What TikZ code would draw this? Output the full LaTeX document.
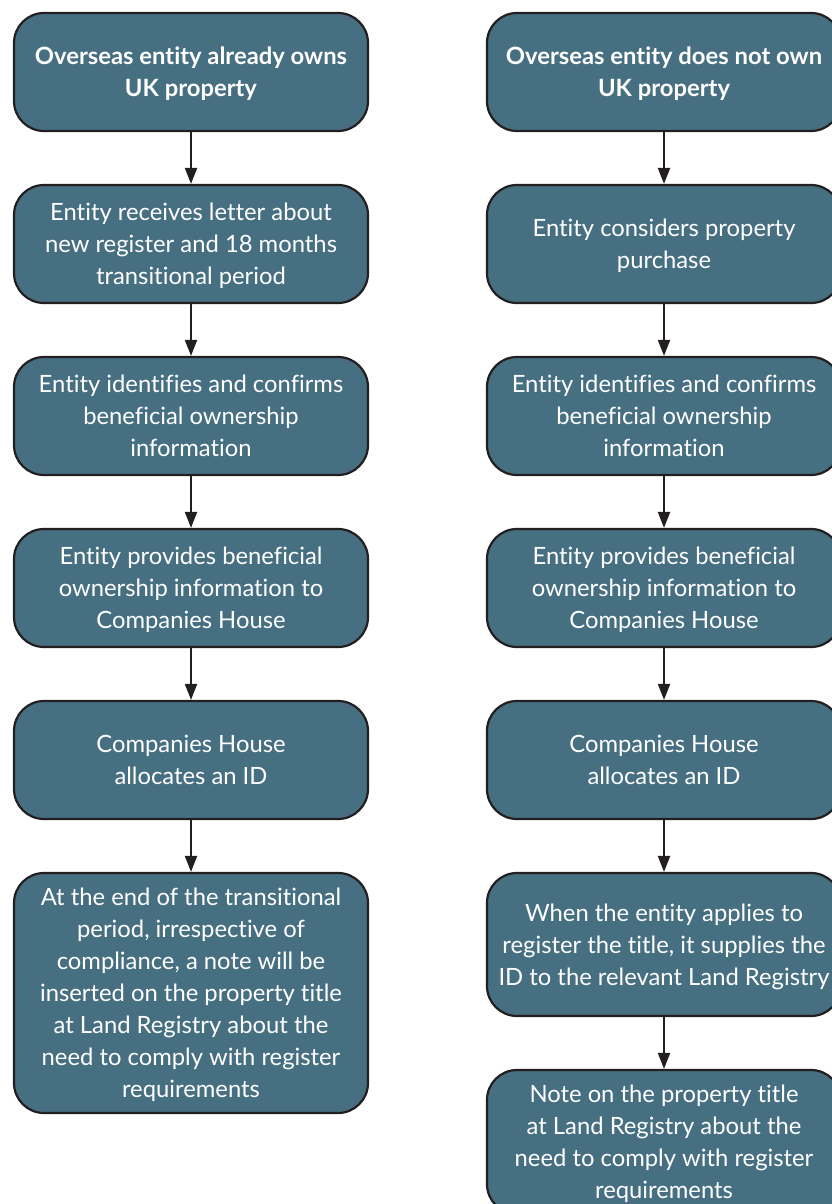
\documentclass[tikz,border=0pt]{standalone}
\usepackage{fontspec}
\setmainfont{Lato}[Ligatures=NoCommon]
\usepackage{tikz}
\usetikzlibrary{arrows.meta}
\definecolor{slateteal}{RGB}{70,111,130}
\definecolor{inkline}{RGB}{35,31,32}
\newcommand{\cBox}{slateteal}
\newcommand{\cInk}{inkline}
\newcommand{\colL}{191}
\newcommand{\colR}{664}
\newcommand{\boxw}{354}

\begin{document}
\begin{tikzpicture}[x=1pt,y=-1pt,
    flowbox/.style={draw=\cInk, line width=2.2pt, fill=\cBox, rounded corners=30pt,
      text=white, align=center, minimum width=\boxw pt, minimum height=118pt,
      inner sep=0pt, text depth=-11pt, font=\fontsize{23.8}{32}\selectfont},
    headbox/.style={flowbox, font=\fontsize{23.8}{32}\selectfont\bfseries},
    flowarrow/.style={draw=\cInk, line width=2pt, -{Triangle[width=12pt,length=16pt]}}]
    \clip (0,0) rectangle (832,1204);
    % --- --- --- Left column: entity already owns property
    \node[headbox] (l1) at (\colL,72) {Overseas entity already owns\\UK property};
    \node[flowbox] (l2) at (\colL,244) {Entity receives letter about\\new register and 18 months\\transitional period};
    \node[flowbox] (l3) at (\colL,416) {Entity identifies and confirms\\beneficial ownership\\information};
    \node[flowbox] (l4) at (\colL,588) {Entity provides beneficial\\ownership information to\\Companies House};
    \node[flowbox] (l5) at (\colL,760) {Companies House\\allocates an ID};
    \node[flowbox, minimum height=240pt] (l6) at (\colL,993) {At the end of the transitional\\period, irrespective of\\compliance, a note will be\\inserted on the property title\\at Land Registry about the\\need to comply with register\\requirements};
    % --- --- --- Right column: entity does not own property
    \node[headbox] (r1) at (\colR,72) {Overseas entity does not own\\UK property};
    \node[flowbox] (r2) at (\colR,244) {Entity considers property\\purchase};
    \node[flowbox] (r3) at (\colR,416) {Entity identifies and confirms\\beneficial ownership\\information};
    \node[flowbox] (r4) at (\colR,588) {Entity provides beneficial\\ownership information to\\Companies House};
    \node[flowbox] (r5) at (\colR,760) {Companies House\\allocates an ID};
    \node[flowbox, minimum height=143pt] (r6) at (\colR,944.5) {When the entity applies to\\register the title, it supplies the\\ID to the relevant Land Registry};
    \node[flowbox, minimum height=144pt] (r7) at (\colR,1142) {Note on the property title\\at Land Registry about the\\need to comply with register\\requirements};
    % === === === Arrows
    \draw[flowarrow] (l1.south) -- (l2.north);
    \draw[flowarrow] (l2.south) -- (l3.north);
    \draw[flowarrow] (l3.south) -- (l4.north);
    \draw[flowarrow] (l4.south) -- (l5.north);
    \draw[flowarrow] (l5.south) -- (l6.north);
    \draw[flowarrow] (r1.south) -- (r2.north);
    \draw[flowarrow] (r2.south) -- (r3.north);
    \draw[flowarrow] (r3.south) -- (r4.north);
    \draw[flowarrow] (r4.south) -- (r5.north);
    \draw[flowarrow] (r5.south) -- (r6.north);
    \draw[flowarrow] (r6.south) -- (r7.north);
\end{tikzpicture}
\end{document}
